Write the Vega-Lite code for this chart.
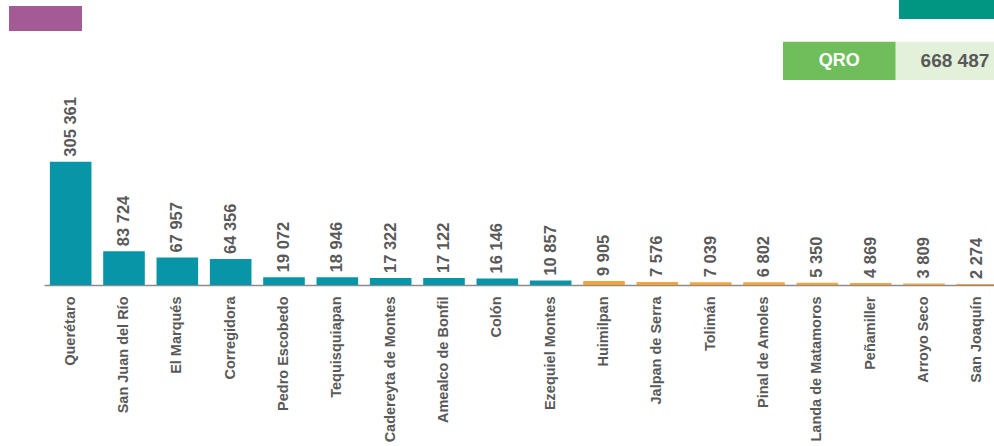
{
  "$schema": "https://vega.github.io/schema/vega-lite/v6.json",
  "width": 950,
  "height": 285,
  "autosize": {"type": "none"},
  "padding": {"left": 44, "top": 0, "right": 0, "bottom": 161},
  "config": {
    "view": {"stroke": null},
    "font": "Liberation Sans",
    "locale": {"number": {"decimal": ".", "thousands": " ", "grouping": [3], "currency": ["$", ""]}}
  },
  "datasets": {
    "pob": [
      {"municipio": "Querétaro", "poblacion": 305361, "grupo": "mayor"},
      {"municipio": "San Juan del Río", "poblacion": 83724, "grupo": "mayor"},
      {"municipio": "El Marqués", "poblacion": 67957, "grupo": "mayor"},
      {"municipio": "Corregidora", "poblacion": 64356, "grupo": "mayor"},
      {"municipio": "Pedro Escobedo", "poblacion": 19072, "grupo": "mayor"},
      {"municipio": "Tequisquiapan", "poblacion": 18946, "grupo": "mayor"},
      {"municipio": "Cadereyta de Montes", "poblacion": 17322, "grupo": "mayor"},
      {"municipio": "Amealco de Bonfil", "poblacion": 17122, "grupo": "mayor"},
      {"municipio": "Colón", "poblacion": 16146, "grupo": "mayor"},
      {"municipio": "Ezequiel Montes", "poblacion": 10857, "grupo": "mayor"},
      {"municipio": "Huimilpan", "poblacion": 9905, "grupo": "menor"},
      {"municipio": "Jalpan de Serra", "poblacion": 7576, "grupo": "menor"},
      {"municipio": "Tolimán", "poblacion": 7039, "grupo": "menor"},
      {"municipio": "Pinal de Amoles", "poblacion": 6802, "grupo": "menor"},
      {"municipio": "Landa de Matamoros", "poblacion": 5350, "grupo": "menor"},
      {"municipio": "Peñamiller", "poblacion": 4869, "grupo": "menor"},
      {"municipio": "Arroyo Seco", "poblacion": 3809, "grupo": "menor"},
      {"municipio": "San Joaquín", "poblacion": 2274, "grupo": "menor"}
    ]
  },
  "layer": [
    {
      "data": {"name": "pob"},
      "encoding": {
        "x": {
          "field": "municipio", "type": "nominal", "sort": null,
          "scale": {"range": [0, 960], "paddingInner": 0.22, "paddingOuter": 0.11},
          "axis": {
            "title": null, "labelAngle": -90, "labelFontSize": 14.5, "labelFontWeight": "bold",
            "labelColor": "#595959", "labelPadding": 11, "ticks": false,
            "domainColor": "#8c8c8c", "domainWidth": 1.5, "labelFont": "Liberation Sans", "labelLimit": 200
          }
        },
        "y": {
          "field": "poblacion", "type": "quantitative",
          "scale": {"domain": [0, 705800], "nice": false},
          "axis": null
        }
      },
      "layer": [
        {
          "mark": {"type": "bar"},
          "encoding": {
            "color": {
              "field": "grupo", "type": "nominal",
              "scale": {"domain": ["mayor", "menor"], "range": ["#0895A8", "#F2A33A"]},
              "legend": null
            }
          }
        },
        {
          "mark": {"type": "text", "angle": 270, "align": "left", "baseline": "middle", "dx": 5, "fontSize": 16.5, "fontWeight": "bold", "color": "#595959"},
          "encoding": {"text": {"field": "poblacion", "type": "quantitative", "format": ",d"}}
        }
      ]
    },
    {
      "data": {"values": [{}]},
      "mark": {"type": "rect", "color": "#A35A95"},
      "encoding": {
        "x": {"datum": -1.156, "type": "quantitative", "scale": {"domain": [-0.5, 17.5], "range": [0, 960]}, "axis": null},
        "x2": {"datum": 0.2125},
        "y": {"datum": 629030, "type": "quantitative", "scale": {"domain": [0, 705800], "nice": false}, "axis": null},
        "y2": {"datum": 690940}
      }
    },
    {
      "data": {"values": [{}]},
      "mark": {"type": "rect", "color": "#009682"},
      "encoding": {
        "x": {"datum": 15.53, "type": "quantitative", "scale": {"domain": [-0.5, 17.5], "range": [0, 960]}, "axis": null},
        "x2": {"datum": 17.5},
        "y": {"datum": 658750, "type": "quantitative", "scale": {"domain": [0, 705800], "nice": false}, "axis": null},
        "y2": {"datum": 705800}
      }
    },
    {
      "data": {"values": [{}]},
      "mark": {"type": "rect", "color": "#6FBE5B"},
      "encoding": {
        "x": {"datum": 13.356, "type": "quantitative", "scale": {"domain": [-0.5, 17.5], "range": [0, 960]}, "axis": null},
        "x2": {"datum": 15.47},
        "y": {"datum": 507680, "type": "quantitative", "scale": {"domain": [0, 705800], "nice": false}, "axis": null},
        "y2": {"datum": 602530}
      }
    },
    {
      "data": {"values": [{}]},
      "mark": {"type": "rect", "color": "#E3F1DA"},
      "encoding": {
        "x": {"datum": 15.47, "type": "quantitative", "scale": {"domain": [-0.5, 17.5], "range": [0, 960]}, "axis": null},
        "x2": {"datum": 17.5},
        "y": {"datum": 507680, "type": "quantitative", "scale": {"domain": [0, 705800], "nice": false}, "axis": null},
        "y2": {"datum": 602530}
      }
    },
    {
      "data": {"values": [{}]},
      "mark": {"type": "text", "text": "QRO", "color": "#ffffff", "fontSize": 18, "fontWeight": "bold", "align": "center", "baseline": "middle"},
      "encoding": {
        "x": {"datum": 14.41, "type": "quantitative", "scale": {"domain": [-0.5, 17.5], "range": [0, 960]}, "axis": null},
        "y": {"datum": 554730, "type": "quantitative", "scale": {"domain": [0, 705800], "nice": false}, "axis": null}
      }
    },
    {
      "data": {"name": "pob"},
      "transform": [{"aggregate": [{"op": "sum", "field": "poblacion", "as": "total"}]}],
      "mark": {"type": "text", "color": "#595959", "fontSize": 19, "fontWeight": "bold", "align": "center", "baseline": "middle"},
      "encoding": {
        "x": {"datum": 16.58, "type": "quantitative", "scale": {"domain": [-0.5, 17.5], "range": [0, 960]}, "axis": null},
        "y": {"datum": 554730, "type": "quantitative", "scale": {"domain": [0, 705800], "nice": false}, "axis": null},
        "text": {"field": "total", "type": "quantitative", "format": ",d"}
      }
    }
  ],
  "resolve": {"scale": {"x": "independent"}}
}
